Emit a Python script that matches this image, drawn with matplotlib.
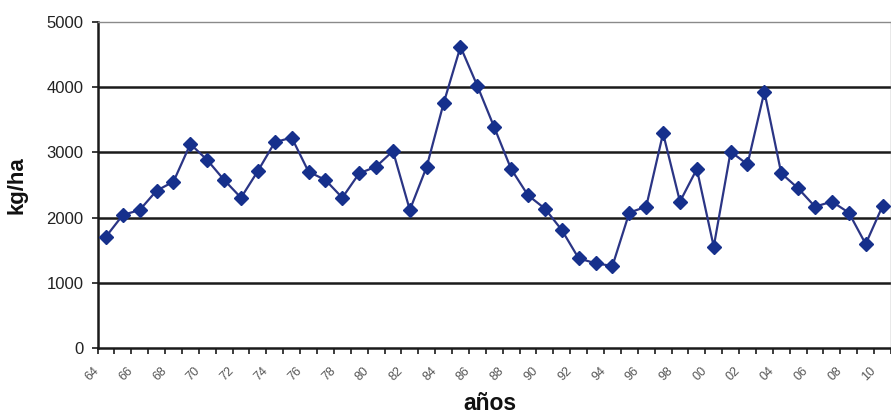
import matplotlib
matplotlib.use('Agg')
import matplotlib.pyplot as plt
import matplotlib.transforms as mtransforms

# data
years = list(range(1964, 2011))
yields = [1707, 2040, 2117, 2413, 2551, 3129, 2883, 2577, 2305, 2715,
          3155, 3228, 2704, 2577, 2305, 2679, 2781, 3021, 2117, 2781,
          3753, 4621, 4020, 3385, 2745, 2342, 2138, 1810, 1375, 1299,
          1258, 2076, 2168, 3293, 2245, 2745, 1554, 3011, 2817, 3931,
          2679, 2449, 2168, 2245, 2076, 1595, 2178]
tick_labels = [f'{y % 100:02d}' for y in years[::2]]
y_ticks = [0, 1000, 2000, 3000, 4000, 5000]

plt.rcParams['font.family'] = ['Liberation Sans', 'DejaVu Sans']

fig = plt.figure(figsize=(8.91, 4.18), dpi=100)
ax = fig.add_axes([97.5 / 891, 1 - 348 / 418, (891 - 97.5) / 891, (348 - 22) / 418])

x = list(range(len(years)))
ax.plot(x, yields, color='#2b3585', lw=1.6, marker='D', ms=7.5,
        markerfacecolor='#16308c', markeredgecolor='#16308c', zorder=3)

ax.set_xlim(-0.5, len(years) - 0.5)
ax.set_ylim(0, 5000)

# gridlines
for v in y_ticks[1:-1]:
    ax.axhline(v, color='#1a1a1a', lw=1.8, zorder=1)

ax.set_yticks(y_ticks)
ax.set_yticklabels([str(v) for v in y_ticks], fontsize=12, color='#222222')
ax.tick_params(axis='y', length=4, width=1.2, color='#1a1a1a', pad=6)

ax.set_xticks(x[::2])
ax.set_xticklabels(tick_labels, rotation=45, ha='right', va='top',
                   rotation_mode='anchor', fontsize=9, color='#555555')
ax.set_xticks([i - 0.5 for i in range(len(years) + 1)], minor=True)
ax.tick_params(axis='x', which='major', length=0, pad=12)
ax.tick_params(axis='x', which='minor', length=4, width=1.2, color='#1a1a1a')
shift = mtransforms.ScaledTranslation(-13 / 100, 0, fig.dpi_scale_trans)
for lab in ax.get_xticklabels():
    lab.set_transform(lab.get_transform() + shift)

for side in ['left', 'bottom']:
    ax.spines[side].set_color('#1a1a1a')
    ax.spines[side].set_linewidth(1.8)
for side in ['top', 'right']:
    ax.spines[side].set_color('#8a8a8a')
    ax.spines[side].set_linewidth(1.0)

fig.text(17 / 891, 1 - 185 / 418, 'kg/ha', rotation=90, fontsize=16,
         fontweight='bold', ha='center', va='center', color='#111111')
fig.text(490 / 891, 1 - 404 / 418, 'años', fontsize=16.5, fontweight='bold',
         ha='center', va='center', color='#111111')

fig.savefig('out.png', dpi=100, facecolor='white')
